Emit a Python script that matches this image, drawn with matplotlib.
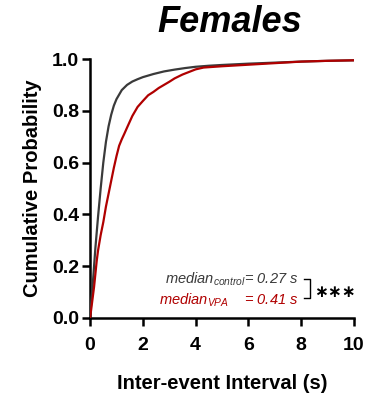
import matplotlib
matplotlib.use("Agg")
import matplotlib.pyplot as plt

plt.rcParams['font.family'] = ['Liberation Sans', 'DejaVu Sans']
plt.rcParams['mathtext.fontset'] = 'custom'
plt.rcParams['mathtext.it'] = 'Liberation Sans:italic'
plt.rcParams['mathtext.rm'] = 'Liberation Sans'

# cumulative distributions
control_x = [0, 0.05, 0.1, 0.15, 0.2, 0.3, 0.4, 0.5, 0.6, 0.7, 0.8, 0.9, 1.0, 1.2, 1.4,
             1.6, 1.8, 2.0, 2.4, 2.8, 3.2, 3.6, 4.0, 4.5, 5.0, 6.0, 7.0, 8.0, 9.0, 10.0]
control_p = [0, 0.07, 0.13, 0.2, 0.27, 0.39, 0.5, 0.6, 0.68, 0.74, 0.785, 0.82, 0.845, 0.88, 0.9,
             0.913, 0.922, 0.93, 0.942, 0.952, 0.959, 0.965, 0.97, 0.974, 0.977, 0.982, 0.986, 0.99, 0.993, 0.995]

vpa_x = [0, 0.05, 0.1, 0.15, 0.2, 0.25, 0.3, 0.4, 0.5, 0.6, 0.7, 0.8, 0.9, 1.0, 1.1, 1.2, 1.3, 1.4,
         1.6, 1.8, 2.0, 2.2, 2.4, 2.6, 2.8, 3.0, 3.2, 3.5, 3.8, 4.0, 4.3, 5.0, 6.0, 7.0, 8.0, 9.0, 10.0]
vpa_p = [0, 0.04, 0.08, 0.12, 0.17, 0.22, 0.26, 0.32, 0.37, 0.43, 0.48, 0.53, 0.58, 0.625, 0.665, 0.69, 0.712, 0.735,
         0.78, 0.815, 0.838, 0.86, 0.873, 0.888, 0.9, 0.912, 0.925, 0.94, 0.952, 0.96, 0.967, 0.972, 0.978, 0.984, 0.99, 0.993, 0.995]

x_ticks = [0, 2, 4, 6, 8, 10]
y_ticks = [0.0, 0.2, 0.4, 0.6, 0.8, 1.0]

grey = '#3a3a3a'
red = '#b00000'

fig = plt.figure(figsize=(3.77, 3.96), dpi=100)
ax = fig.add_axes([0.239, 0.197, 0.7, 0.654])

ax.plot(control_x, control_p, color=grey, lw=1.6, zorder=3)
ax.plot(vpa_x, vpa_p, color=red, lw=1.6, zorder=4)

ax.set_xlim(0, 10)
ax.set_ylim(0, 1.0)
ax.set_xticks(x_ticks)
ax.set_yticks(y_ticks)
ax.set_xticklabels([str(t) for t in x_ticks])
ax.set_yticklabels(['%.1f' % t for t in y_ticks])
for s in ['top', 'right']:
    ax.spines[s].set_visible(False)
for s in ['left', 'bottom']:
    ax.spines[s].set_linewidth(1.8)
    ax.spines[s].set_capstyle('projecting')
ax.tick_params(width=1.8, length=6, labelsize=14)
ax.tick_params(axis='x', pad=8)
ax.tick_params(axis='y', pad=2)
for lab in ax.get_xticklabels() + ax.get_yticklabels():
    lab.set_fontweight('bold')

ax.set_xlabel('Inter-event Interval (s)', fontsize=14.5, fontweight='bold', labelpad=14)
ax.set_ylabel('Cumulative Probability', fontsize=14.5, fontweight='bold', labelpad=7)
fig.text(0.61, 0.942, 'Females', ha='center', va='center', fontsize=26,
         fontweight='bold', fontstyle='italic')

# median annotation
ax.text(7.9, 0.15, r'median$_{control}$= 0.27 s', color=grey, fontsize=10.5,
        fontstyle='italic', ha='right', va='center')
ax.text(7.9, 0.07, r'median$_{VPA}$    = 0.41 s', color=red, fontsize=10.5,
        fontstyle='italic', ha='right', va='center')
ax.plot([8.1, 8.35, 8.35, 8.1], [0.15, 0.15, 0.078, 0.078], color='black', lw=1.0,
        clip_on=False)
ax.text(8.5, 0.102, '∗∗∗', fontsize=12, fontweight='bold', family='DejaVu Sans',
        ha='left', va='center')

fig.savefig('out.png', dpi=100)
